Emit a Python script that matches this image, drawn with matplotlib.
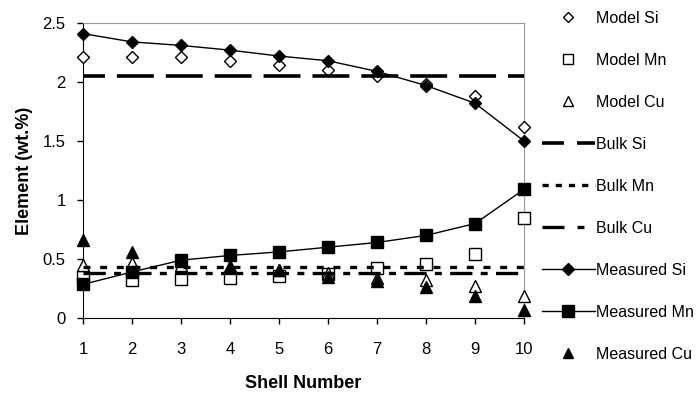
import matplotlib
matplotlib.use("Agg")
import matplotlib.pyplot as plt
from matplotlib.lines import Line2D

plt.rcParams['font.family'] = ['Liberation Sans', 'DejaVu Sans']
plt.rcParams['lines.scale_dashes'] = False

# data
shell = [1, 2, 3, 4, 5, 6, 7, 8, 9, 10]
model_si = [2.21, 2.21, 2.21, 2.18, 2.14, 2.10, 2.05, 1.98, 1.88, 1.62]
model_mn = [0.35, 0.32, 0.33, 0.34, 0.36, 0.37, 0.42, 0.46, 0.54, 0.85]
model_cu = [0.45, 0.47, 0.45, 0.43, 0.41, 0.38, 0.34, 0.32, 0.27, 0.19]
bulk_si = 2.05
bulk_mn = 0.435
bulk_cu = 0.38
meas_si = [2.41, 2.34, 2.31, 2.27, 2.22, 2.18, 2.09, 1.97, 1.82, 1.50]
meas_mn = [0.285, 0.39, 0.49, 0.53, 0.56, 0.60, 0.64, 0.70, 0.80, 1.09]
meas_cu = [0.66, 0.56, 0.48, 0.44, 0.41, 0.35, 0.31, 0.26, 0.19, 0.07]

fig = plt.figure(figsize=(6.96, 3.94), dpi=100)
ax = fig.add_axes([83/696, 1-318/394, (524-83)/696, (318-23)/394])

open_kw = dict(linestyle='none', mfc='white', mec='black', mew=1.0, clip_on=False)
ax.plot(shell, model_si, marker='D', ms=6, zorder=3, **open_kw)
ax.plot(shell, model_mn, marker='s', ms=8, zorder=3, **open_kw)
ax.plot(shell, model_cu, marker='^', ms=8, zorder=3, **open_kw)

ax.axhline(bulk_si, color='black', lw=2.6, linestyle=(10.8, (26.6, 8.6)), zorder=4)
ax.axhline(bulk_mn, color='black', lw=2.4, linestyle=(0, (5, 7)), zorder=4)
ax.axhline(bulk_cu, color='black', lw=2.4, linestyle=(0, (16, 6, 5, 6)), zorder=4)

ax.plot(shell, meas_si, color='black', lw=1.0, marker='D', ms=6.5, zorder=5, clip_on=False)
ax.plot(shell, meas_mn, color='black', lw=1.0, marker='s', ms=9, zorder=5, clip_on=False)
ax.plot(shell, meas_cu, linestyle='none', color='black', marker='^', ms=8, zorder=5, clip_on=False)

ax.set_xlim(1, 10)
ax.set_ylim(0, 2.5)
ax.set_xticks(shell)
ax.set_yticks([0, 0.5, 1, 1.5, 2, 2.5])
ax.set_yticklabels(['0', '0.5', '1', '1.5', '2', '2.5'])
ax.tick_params(direction='out', length=4.5, width=1, labelsize=12, colors='black')
ax.tick_params(axis='x', pad=13)
ax.tick_params(axis='y', pad=8)
for side in ['top', 'right']:
    ax.spines[side].set_color('#999999')
for side in ['left', 'bottom']:
    ax.spines[side].set_color('black')

ax.set_xlabel('Shell Number', fontsize=13, fontweight='bold', labelpad=13)
ax.set_ylabel('Element (wt.%)', fontsize=13, fontweight='bold', labelpad=7)

# legend handles (Excel style, shorter dash patterns than in the plot)
mk = dict(linestyle='none', color='black')
handles = [
    Line2D([], [], marker='D', ms=5, mfc='white', mec='black', mew=1.0, **mk),
    Line2D([], [], marker='s', ms=7, mfc='white', mec='black', mew=1.0, **mk),
    Line2D([], [], marker='^', ms=7, mfc='white', mec='black', mew=1.0, **mk),
    Line2D([], [], color='black', lw=2.6, linestyle=(0, (15.8, 9.4))),
    Line2D([], [], color='black', lw=2.4, linestyle=(0, (4.5, 5))),
    Line2D([], [], color='black', lw=2.4, linestyle=(0, (15.8, 9.4, 5, 9.4))),
    Line2D([], [], color='black', lw=1.0, marker='D', ms=6),
    Line2D([], [], color='black', lw=1.0, marker='s', ms=8),
    Line2D([], [], marker='^', ms=7, **mk),
]
labels = ['Model Si', 'Model Mn', 'Model Cu', 'Bulk Si', 'Bulk Mn', 'Bulk Cu',
          'Measured Si', 'Measured Mn', 'Measured Cu']
fig.legend(handles, labels, loc='upper left', bbox_to_anchor=(542/696, 1 - 11/394),
           frameon=False, fontsize=11.5, handlelength=3.3, handletextpad=0.1,
           labelspacing=1.69, borderpad=0, borderaxespad=0)

fig.savefig('out.png', dpi=100)
